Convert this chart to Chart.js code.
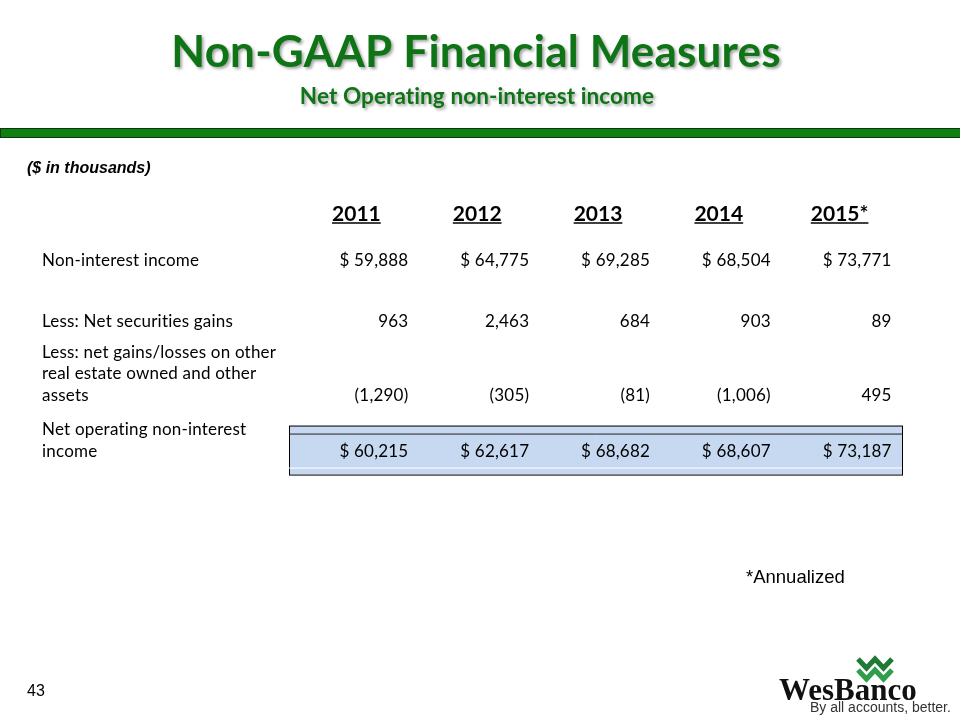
<!DOCTYPE html>
<html>
<head>
<meta charset="utf-8">
<script src="https://cdn.jsdelivr.net/npm/chart.js@4.4.1/dist/chart.umd.min.js"></script>
<style>
  html, body { margin: 0; padding: 0; background: #fff; }
  canvas { display: block; }
</style>
</head>
<body>
<canvas id="measures" width="960" height="720"></canvas>
<script>
// Table data
const years = ['2011', '2012', '2013', '2014', '2015*'];
const rowLabels = [
  ['Non-interest income'],
  ['Less: Net securities gains'],
  ['Less: net gains/losses on other', 'real estate owned and other', 'assets'],
  ['Net operating non-interest', 'income']
];
const nonInterestIncome = [59888, 64775, 69285, 68504, 73771];
const netSecuritiesGains = [963, 2463, 684, 903, 89];
const otherAssetGains = [-1290, -305, -81, -1006, 495];
const netOperatingIncome = [60215, 62617, 68682, 68607, 73187];
const rowValues = [nonInterestIncome, netSecuritiesGains, otherAssetGains, netOperatingIncome];
const rowDollar = [true, false, false, true];
// y slot (text lines below the header) of each row's last line
const rowSlot = [2.2, 5.0, 8.45, 11.05];

const BODY = 'Lato, "Open Sans", sans-serif';
const GREEN = '#0f7416';

function fmt(v, dollar) {
  const s = Math.abs(v).toLocaleString('en-US');
  if (v < 0) return '(' + s + ')';
  return dollar ? '$ ' + s : s;
}

// draw text with its cap height centred on y
function capText(ctx, text, x, y, font, size, align, spacing) {
  ctx.font = font;
  ctx.letterSpacing = spacing || '0px';
  ctx.textAlign = align || 'left';
  ctx.textBaseline = 'alphabetic';
  ctx.fillText(text, x, y + size * 0.36);
  ctx.letterSpacing = '0px';
}

function drawLogo(ctx) {
  ctx.save();
  ctx.lineJoin = 'miter';
  [[659, '#1f7a35'], [670, '#2f9e4c']].forEach(([top, col]) => {
    ctx.strokeStyle = col;
    ctx.lineWidth = 5;
    ctx.beginPath();
    ctx.moveTo(858, top);
    ctx.lineTo(866.5, top + 9);
    ctx.lineTo(875, top);
    ctx.lineTo(883.5, top + 9);
    ctx.lineTo(892, top);
    ctx.stroke();
  });
  ctx.fillStyle = '#111';
  ctx.font = 'bold 31px "Liberation Serif", serif';
  ctx.textAlign = 'left';
  ctx.textBaseline = 'alphabetic';
  ctx.fillText('WesBanco', 779, 700);
  ctx.fillStyle = '#333';
  ctx.font = '14px "Liberation Sans", sans-serif';
  ctx.fillText('By all accounts, better.', 810, 712);
  ctx.restore();
}

const tablePlugin = {
  id: 'tablePlugin',
  beforeDraw(chart) {
    const ctx = chart.ctx;
    ctx.save();
    ctx.fillStyle = '#fff';
    ctx.fillRect(0, 0, chart.width, chart.height);

    // titles
    ctx.shadowColor = 'rgba(0,0,0,0.35)';
    ctx.shadowBlur = 3;
    ctx.shadowOffsetX = 2;
    ctx.shadowOffsetY = 2;
    ctx.fillStyle = GREEN;
    capText(ctx, 'Non-GAAP Financial Measures', 476, 51, 'bold 44px ' + BODY, 44, 'center', '0.2px');
    capText(ctx, 'Net Operating non-interest income', 477, 96, 'bold 22.5px ' + BODY, 22.5, 'center', '0.1px');
    ctx.shadowColor = 'transparent';

    // green rule
    ctx.fillStyle = '#0f7f12';
    ctx.fillRect(1, 129, 960, 8);
    ctx.strokeStyle = '#0b3a0b';
    ctx.lineWidth = 1;
    ctx.strokeRect(0.5, 128.5, 961, 9);

    ctx.fillStyle = '#000';
    capText(ctx, '($ in thousands)', 27, 168, 'italic bold 16px "Liberation Sans", Arial, sans-serif', 15);
    capText(ctx, '*Annualized', 746, 577, '18.5px "Liberation Sans", Arial, sans-serif', 17);
    capText(ctx, '43', 27, 690, '16px "Liberation Sans", Arial, sans-serif', 16);
    drawLogo(ctx);
    ctx.restore();
  },
  beforeDatasetsDraw(chart) {
    const ctx = chart.ctx;
    const area = chart.chartArea;
    const last = chart.getDatasetMeta(rowValues.length - 1).data[0];
    const yc = last.y;
    const left = area.left - 1, right = area.right + 8;
    ctx.save();
    ctx.fillStyle = '#c6d9f1';
    ctx.fillRect(left, yc - 25, right - left, 49);
    ctx.strokeStyle = '#000';
    ctx.lineWidth = 1;
    ctx.strokeRect(left + 0.5, yc - 24.5, right - left, 49);
    ctx.beginPath();
    ctx.moveTo(left, yc - 16.5);
    ctx.lineTo(right, yc - 16.5);
    ctx.strokeStyle = '#222';
    ctx.stroke();
    ctx.beginPath();
    ctx.moveTo(left, yc + 17.5);
    ctx.lineTo(right, yc + 17.5);
    ctx.strokeStyle = '#fff';
    ctx.stroke();
    ctx.restore();
  },
  afterDatasetsDraw(chart) {
    const ctx = chart.ctx;
    const xs = chart.scales.x, ys = chart.scales.y;
    const step = ys.getPixelForValue(1) - ys.getPixelForValue(0);
    ctx.save();
    ctx.fillStyle = '#000';
    ctx.strokeStyle = '#000';

    // header row
    const hy = ys.getPixelForValue(0);
    years.forEach((yr, i) => {
      const cx = xs.getPixelForValue(i) + 6;
      capText(ctx, yr, cx, hy, 'bold 21px ' + BODY, 21, 'center');
      ctx.font = 'bold 21px ' + BODY;
      const w = ctx.measureText(yr).width;
      ctx.lineWidth = 1.6;
      ctx.beginPath();
      ctx.moveTo(cx - w / 2, hy + 10);
      ctx.lineTo(cx + w / 2, hy + 10);
      ctx.stroke();
    });

    rowValues.forEach((vals, d) => {
      const meta = chart.getDatasetMeta(d);
      const lines = rowLabels[d];
      const ry = meta.data[0].y;
      lines.forEach((t, k) => {
        capText(ctx, t, 42, ry - (lines.length - 1 - k) * step, '17px ' + BODY, 17, 'left', '0.2px');
      });
      meta.data.forEach((pt, i) => {
        capText(ctx, fmt(vals[i], rowDollar[d]), pt.x + 58, pt.y, '17px ' + BODY, 17, 'right', '0.2px');
      });
    });
    ctx.restore();
  }
};

new Chart(document.getElementById('measures').getContext('2d'), {
  type: 'line',
  data: {
    labels: years,
    datasets: rowValues.map((vals, d) => ({
      label: rowLabels[d].join(' '),
      data: vals.map((v, i) => ({x: years[i], y: rowSlot[d]})),
      showLine: false,
      pointRadius: 0,
      pointHoverRadius: 0
    }))
  },
  options: {
    responsive: false,
    animation: false,
    events: [],
    layout: {padding: {left: 290, right: 66, top: 213, bottom: 249}},
    plugins: {legend: {display: false}, tooltip: {enabled: false}, title: {display: false}},
    scales: {
      x: {type: 'category', offset: true, display: false},
      y: {type: 'linear', reverse: true, min: 0, max: 12, display: false}
    }
  },
  plugins: [tablePlugin]
});
</script>
</body>
</html>
